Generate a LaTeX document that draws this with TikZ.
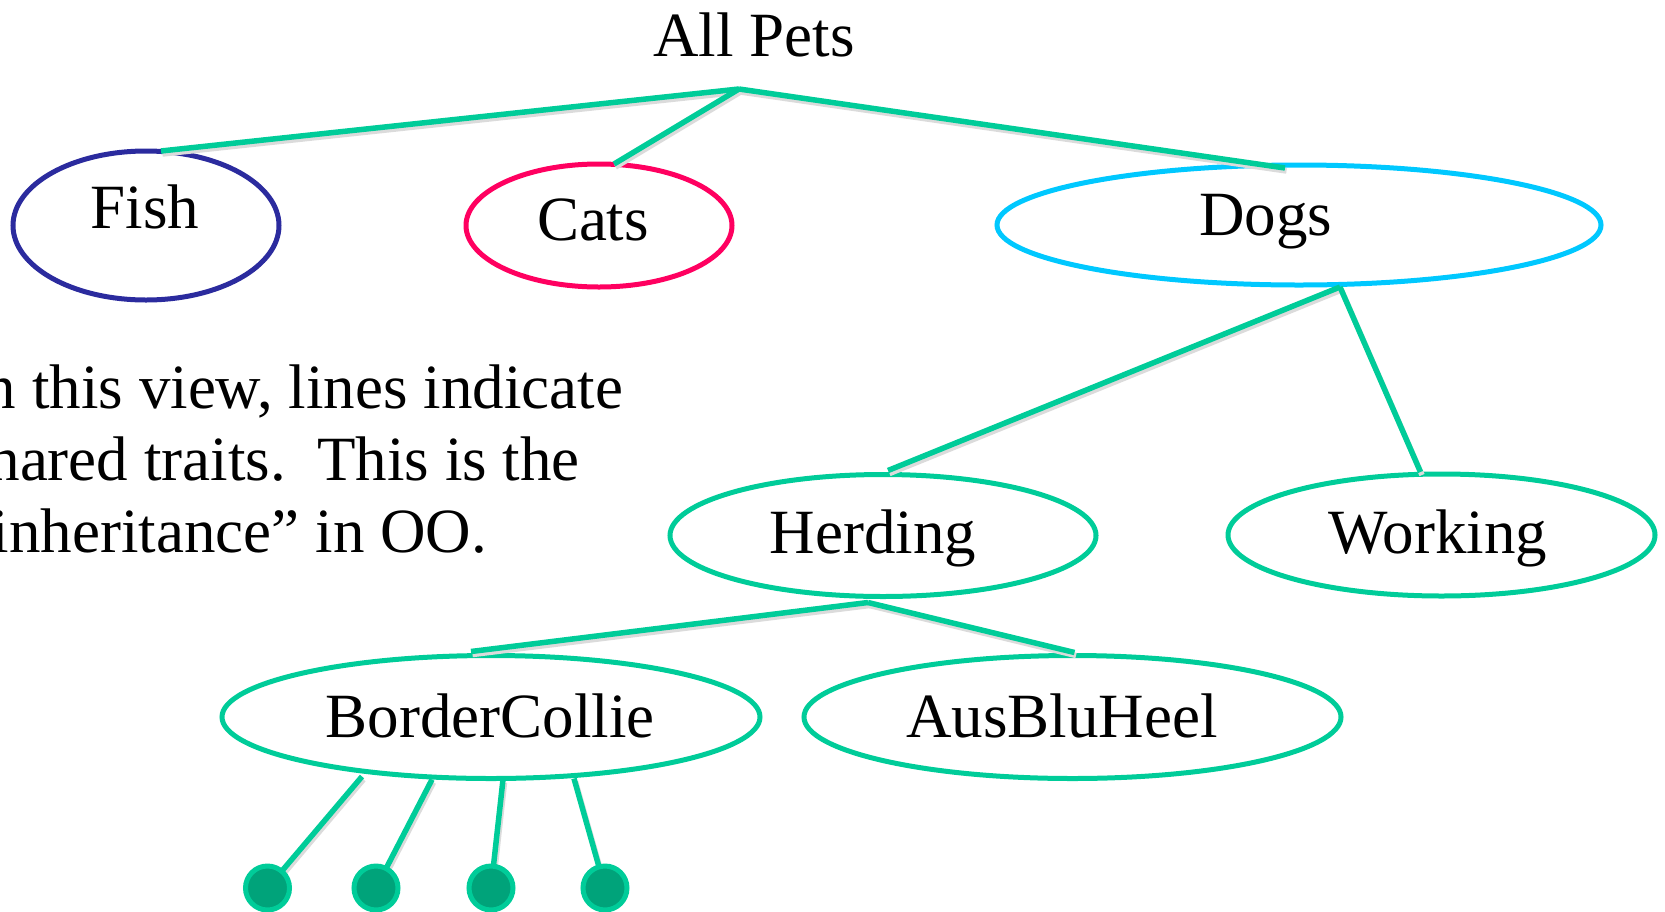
\documentclass[tikz,border=0pt]{standalone}
\usepackage{fontspec}
\setmainfont{Liberation Serif}
\usetikzlibrary{calc,shapes.geometric}

\definecolor{linkgreen}{RGB}{0,204,153}
\definecolor{leafgreen}{RGB}{0,163,122}
\definecolor{fishblue}{RGB}{43,43,158}
\definecolor{catred}{RGB}{255,0,96}
\definecolor{dogcyan}{RGB}{0,200,255}

\pgfdeclarelayer{under}
\pgfsetlayers{under,main}

\begin{document}
\begin{tikzpicture}[x=1pt,y=-1pt,
  link/.style={draw=linkgreen, line width=5.5pt,
               preaction={draw=black!14, line width=5.5pt,
                          transform canvas={shift={(1.5pt,-3pt)}}}},
  oval/.style={ellipse, draw, line width=5pt, inner sep=0pt, outer sep=0pt},
  word/.style={font=\fontsize{63}{72}\selectfont, inner sep=0pt, outer sep=0pt, anchor=base},
  prose/.style={font=\fontsize{63}{72}\selectfont, inner sep=0pt, outer sep=0pt, anchor=base west},
  leaf/.style={circle, draw=linkgreen, fill=leafgreen, line width=5pt,
               minimum size=44pt, inner sep=0pt, outer sep=0pt}]

  \useasboundingbox (0,0) rectangle (1665,911);
  \clip (0,0) rectangle (1665,911);

  % root label and the point its branches leave from
  \node[word] (allpets) at (754,56) {All Pets};
  \coordinate (root) at (739,89);

  % first level
  \node[oval, draw=fishblue, minimum width=266pt, minimum height=149pt] (fish) at (146,225.5) {};
  \node[word] (fishlabel) at (145,228) {Fish};
  \node[oval, draw=catred, minimum width=266pt, minimum height=123pt] (cats) at (599,225.5) {};
  \node[word] (catslabel) at (593,240) {Cats};
  \node[oval, draw=dogcyan, minimum width=604pt, minimum height=120pt] (dogs) at (1299,225) {};
  \node[word] (dogslabel) at (1266,235) {Dogs};

  % dog groups
  \node[oval, draw=linkgreen, minimum width=426pt, minimum height=122pt] (herding) at (883,535.5) {};
  \node[word] (herdinglabel) at (873,553) {Herding};
  \node[oval, draw=linkgreen, minimum width=427pt, minimum height=122pt] (working) at (1441.5,535) {};
  \node[word] (workinglabel) at (1438,553) {Working};

  % breeds
  \node[oval, draw=linkgreen, minimum width=538pt, minimum height=123pt] (collie) at (491,717) {};
  \node[word] (collielabel) at (490,737) {BorderCollie};
  \node[oval, draw=linkgreen, minimum width=537pt, minimum height=123pt] (heeler) at (1072.5,717) {};
  \node[word] (heelerlabel) at (1062,737) {AusBluHeel};

  % explanatory text
  \node[prose] (note1) at (-36,408) {In this view, lines indicate};
  \node[prose] (note2) at (-36,480) {shared traits.\ \ This is the};
  \node[prose] (note3) at (-36,552) {“inheritance” in OO.};

  % branches
  \draw[link] (root) -- ($(fish.north)+(15,0)$);
  \draw[link] (root) -- ($(cats.north)+(15,0)$);
  \draw[link] (root) -- ($(dogs.north)+(-14,3)$);

  \coordinate (dogsfork) at ($(dogs.south)+(41,2)$);
  \draw[link] (dogsfork) -- ($(herding.north)+(5,-4)$);
  \draw[link] (dogsfork) -- ($(working.north)+(-21,-2)$);

  \coordinate (herdfork) at ($(herding.south)+(-15,6)$);
  \draw[link] (herdfork) -- ($(collie.north)+(-20,-4)$);
  \draw[link] (herdfork) -- ($(heeler.north)+(2,-3)$);

  % individual dogs, hanging below the breed
  \node[leaf] (d1) at (267.5,888) {};
  \node[leaf] (d2) at (376,888) {};
  \node[leaf] (d3) at (491,888) {};
  \node[leaf] (d4) at (605,888) {};

  \begin{pgfonlayer}{under}
    \draw[link] ($(collie.south)+(-129,-2)$) -- (d1.center);
    \draw[link] ($(collie.south)+(-59,1)$) -- (d2.center);
    \draw[link] ($(collie.south)+(12,1)$) -- (d3.center);
    \draw[link] ($(collie.south)+(83,0)$) -- (d4.center);
  \end{pgfonlayer}
\end{tikzpicture}
\end{document}
